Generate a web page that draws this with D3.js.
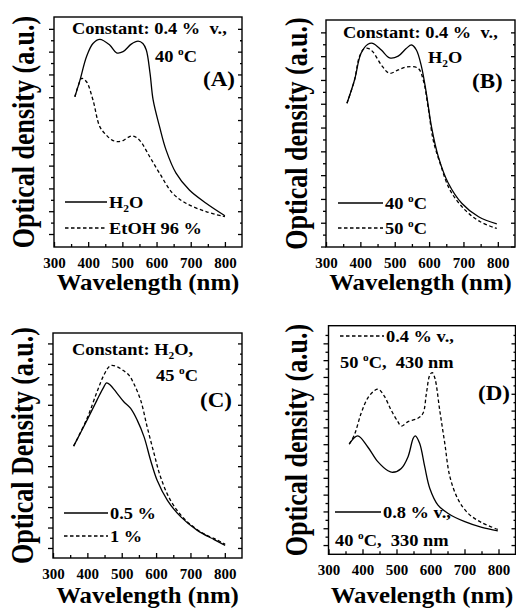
<!DOCTYPE html>
<html>
<head>
<meta charset="utf-8">
<script src="https://cdn.jsdelivr.net/npm/d3@7"></script>
<style>
body { margin: 0; background: #fff; }
svg { display: block; }
text { font-family: "Liberation Serif", "Times New Roman", serif; font-weight: bold; fill: #000; }
</style>
</head>
<body>
<div id="chart"></div>
<script>
var width = 516
var height = 608
var fontStretch = 1.15

// (A) constant 0.4 % v., 40 C : solvent
var aWaveH2O  = [361, 376, 395, 414, 434, 463, 483, 502, 526, 546, 560, 570, 581, 590, 609, 628, 657, 696, 745, 800]
var aOdH2O    = [6.02, 6.75, 7.78, 8.36, 8.54, 8.29, 7.95, 8.0, 8.33, 8.46, 8.36, 8.07, 7.05, 5.88, 4.7, 3.68, 2.67, 1.93, 1.35, 0.8]
var aWaveEtOH = [361, 372, 381, 395, 414, 434, 453, 470, 487, 502, 518, 531, 550, 580, 609, 647, 686, 745, 800]
var aOdEtOH   = [6.02, 6.55, 6.83, 6.68, 5.88, 4.71, 4.34, 4.12, 4.05, 4.1, 4.25, 4.3, 4.12, 3.39, 2.66, 1.79, 1.35, 0.98, 0.76]

// (B) constant 0.4 % v., H2O : temperature
var bWave40 = [361, 383, 402, 422, 436, 461, 485, 510, 534, 549, 563, 578, 592, 607, 627, 656, 695, 744, 797]
var bOd40   = [5.02, 6.0, 7.12, 7.5, 7.54, 7.26, 6.93, 7.0, 7.33, 7.47, 7.26, 6.55, 5.44, 4.03, 2.77, 1.66, 0.82, 0.25, -0.05]
var bWave50 = [361, 383, 397, 410, 422, 436, 461, 485, 510, 534, 568, 583, 597, 612, 632, 661, 705, 749, 797]
var bOd50   = [5.02, 6.0, 6.97, 7.3, 7.33, 7.19, 6.63, 6.28, 6.42, 6.55, 6.49, 6.0, 4.87, 3.47, 2.5, 1.37, 0.53, 0.04, -0.24]

// (C) constant H2O, 45 C : concentration
var cWave05 = [360, 399, 428, 448, 456, 467, 487, 506, 526, 545, 565, 584, 603, 633, 672, 720, 769, 801]
var cOd05   = [4.98, 6.25, 7.23, 7.88, 8.07, 7.96, 7.55, 7.15, 6.82, 6.25, 5.43, 4.29, 3.31, 2.33, 1.52, 0.86, 0.41, 0.13]
var cWave1  = [360, 399, 428, 448, 467, 487, 506, 521, 535, 555, 574, 594, 613, 642, 681, 730, 779, 801]
var cOd1    = [4.98, 6.33, 7.63, 8.45, 8.91, 8.86, 8.66, 8.45, 8.04, 7.23, 5.92, 4.62, 3.47, 2.33, 1.44, 0.78, 0.38, 0.18]

// (D) two preparations
var dWave08 = [361, 386, 415, 445, 475, 489, 514, 534, 549, 555, 568, 583, 598, 622, 652, 701, 751, 798]
var dOd08   = [6.01, 6.49, 5.85, 4.96, 4.42, 4.33, 4.56, 5.26, 6.35, 6.49, 6.05, 4.66, 3.37, 2.38, 1.88, 1.39, 1.05, 0.85]
var dWave04 = [361, 376, 396, 415, 435, 447, 465, 484, 504, 514, 534, 563, 578, 588, 598, 605, 613, 627, 642, 657, 682, 711, 751, 798]
var dOd04   = [6.01, 6.55, 7.84, 8.73, 9.19, 9.27, 8.83, 8.04, 7.34, 7.08, 7.34, 7.54, 7.84, 9.03, 10.12, 10.26, 9.92, 8.04, 6.05, 4.07, 2.68, 1.88, 1.33, 0.93]

var xTickLabels = [300, 400, 500, 600, 700, 800]
var xTitle = "Wavelength (nm)"

var panels = [
    { box: {l: 54, t: 17, r: 242, b: 247}, yDom: [-0.57, 9.52], yTitle: "Optical density (a.u.)", titleX: 34, xTitleY: 290,
      series: [{w: aWaveH2O, v: aOdH2O, dash: false}, {w: aWaveEtOH, v: aOdEtOH, dash: true}],
      notes: [["Constant: 0.4 %  v.,", 72, 34, 16], ["40 ^oC", 155, 62, 16], ["(A)", 203, 86, 20]],
      legend: [["H_2O", 65, 107, 202, false], ["EtOH 96 %", 65, 107, 228, true]] },
    { box: {l: 326, t: 20, r: 515, b: 247}, yDom: [-1.02, 8.52], yTitle: "Optical density (a.u.)", titleX: 307, xTitleY: 290,
      series: [{w: bWave40, v: bOd40, dash: false}, {w: bWave50, v: bOd50, dash: true}],
      notes: [["Constant: 0.4 %  v.,", 343, 38, 16], ["H_2O", 428, 63, 16], ["(B)", 472, 88, 20]],
      legend: [["40 ^oC", 338, 383, 203, false], ["50 ^oC", 338, 383, 228, true]] },
    { box: {l: 53, t: 333, r: 242, b: 558}, yDom: [-0.49, 10.51], yTitle: "Optical Density (a.u.)", titleX: 33, xTitleY: 603,
      series: [{w: cWave05, v: cOd05, dash: false}, {w: cWave1, v: cOd1, dash: true}],
      notes: [["Constant: H_2O,", 72, 355, 16], ["45 ^oC", 156, 381, 16], ["(C)", 200, 407, 20]],
      legend: [["0.5 %", 64, 108, 513, false], ["1 %", 64, 108, 536, true]] },
    { box: {l: 328.5, t: 325.7, r: 515.5, b: 554.3}, yDom: [-0.55, 13.05], yTitle: "Optical density (a.u.)", titleX: 307, xTitleY: 603,
      series: [{w: dWave08, v: dOd08, dash: false}, {w: dWave04, v: dOd04, dash: true}],
      notes: [["50 ^oC,  430 nm", 340, 368, 16], ["(D)", 478, 400, 20], ["40 ^oC,  330 nm", 335, 546, 16]],
      legend: [["0.4 % v.,", 340, 384, 336, true], ["0.8 % v.,", 335, 381, 512, false]] }
]

var svg = d3.select("#chart").append("svg")
    .attr("width", width)
    .attr("height", height)

// text with ^x superscripts and _x subscripts
function addText(g, x, y, str, size, sx, anchor) {
    var t = g.append("text")
        .attr("transform", "translate(" + x + "," + y + ") scale(" + sx + ",1)")
        .attr("font-size", size)
        .attr("text-anchor", anchor || "start")
        .style("white-space", "pre")
    var back = 0
    str.split(/(\^.|_.)/).forEach(function(b) {
        if (!b) return
        var s = t.append("tspan")
        if (b[0] == "^" || b[0] == "_") {
            var d = b[0] == "^" ? -size * 0.42 : size * 0.28
            s.text(b[1]).attr("font-size", size * 0.62).attr("dy", d)
            back = -d
        } else {
            s.text(b)
            if (back) { s.attr("dy", back); back = 0 }
        }
    })
    return t
}

panels.forEach(function(p) {
    var g = svg.append("g")
    var x = d3.scaleLinear().domain([300, 850]).range([p.box.l, p.box.r])
    var y = d3.scaleLinear().domain(p.yDom).range([p.box.b, p.box.t])

    var yMajor = d3.range(Math.ceil(p.yDom[0]), p.yDom[1] - 0.2, 1)
    var yMinor = d3.range(Math.ceil(p.yDom[0]) - 0.5, p.yDom[1] - 0.2, 1).filter(function(v) { return v > p.yDom[0] + 0.2 })
    var xMinor = d3.range(350, 850, 100)

    // bottom axis: ticks inside
    var bx = g.append("g").attr("transform", "translate(0," + p.box.b + ")")
    bx.call(d3.axisBottom(x).tickValues(xTickLabels).tickSizeInner(-5).tickSizeOuter(0).tickPadding(10.5))
    bx.append("g").call(d3.axisBottom(x).tickValues(xMinor).tickSize(-3).tickFormat(""))
    bx.selectAll(".domain").remove()
    bx.attr("font-family", null).attr("font-size", null)
    bx.selectAll("text").style("font-size", "15px").attr("fill", "#000")

    // left axis: ticks outside
    var ly = g.append("g").attr("transform", "translate(" + p.box.l + ",0)")
    ly.call(d3.axisLeft(y).tickValues(yMajor).tickSize(5).tickFormat(""))
    ly.append("g").call(d3.axisLeft(y).tickValues(yMinor).tickSize(3).tickFormat(""))
    ly.selectAll(".domain").remove()

    // right axis mirror ticks
    var ry = g.append("g").attr("transform", "translate(" + p.box.r + ",0)")
    ry.call(d3.axisRight(y).tickValues(yMajor).tickSize(-4).tickFormat(""))
    ry.append("g").call(d3.axisRight(y).tickValues(yMinor).tickSize(-2).tickFormat(""))
    ry.selectAll(".domain").remove()

    g.selectAll(".tick line").attr("stroke", "#000").attr("stroke-width", 1.3)

    g.append("rect")
        .attr("x", p.box.l).attr("y", p.box.t)
        .attr("width", p.box.r - p.box.l).attr("height", p.box.b - p.box.t)
        .attr("fill", "none").attr("stroke", "#000").attr("stroke-width", 1.4)

    var line = d3.line()
        .x(function(d) { return x(d[0]) })
        .y(function(d) { return y(d[1]) })
        .curve(d3.curveCatmullRom.alpha(0.5))

    p.series.forEach(function(s) {
        g.append("path")
            .datum(d3.zip(s.w, s.v))
            .attr("d", line)
            .attr("fill", "none")
            .attr("stroke", "#000")
            .attr("stroke-width", 1.3)
            .attr("stroke-dasharray", s.dash ? "3.5,2.5" : null)
    })

    p.legend.forEach(function(e) {
        g.append("line")
            .attr("x1", e[1]).attr("x2", e[2]).attr("y1", e[3]).attr("y2", e[3])
            .attr("stroke", "#000").attr("stroke-width", 1.3)
            .attr("stroke-dasharray", e[4] ? "3.5,2.5" : null)
        addText(g, e[2] + 2, e[3] + 6, e[0], 16, fontStretch)
    })

    p.notes.forEach(function(n) {
        addText(g, n[1], n[2], n[0], n[3], fontStretch)
    })

    // axis titles
    addText(g, (p.box.l + p.box.r) / 2, p.xTitleY, xTitle, 23, 1.08, "middle")
    g.append("text")
        .attr("transform", "translate(" + p.titleX + "," + ((p.box.t + p.box.b) / 2) + ") rotate(-90) scale(1,1.2)")
        .attr("text-anchor", "middle")
        .attr("font-size", 26)
        .text(p.yTitle)
})
</script>
</body>
</html>
